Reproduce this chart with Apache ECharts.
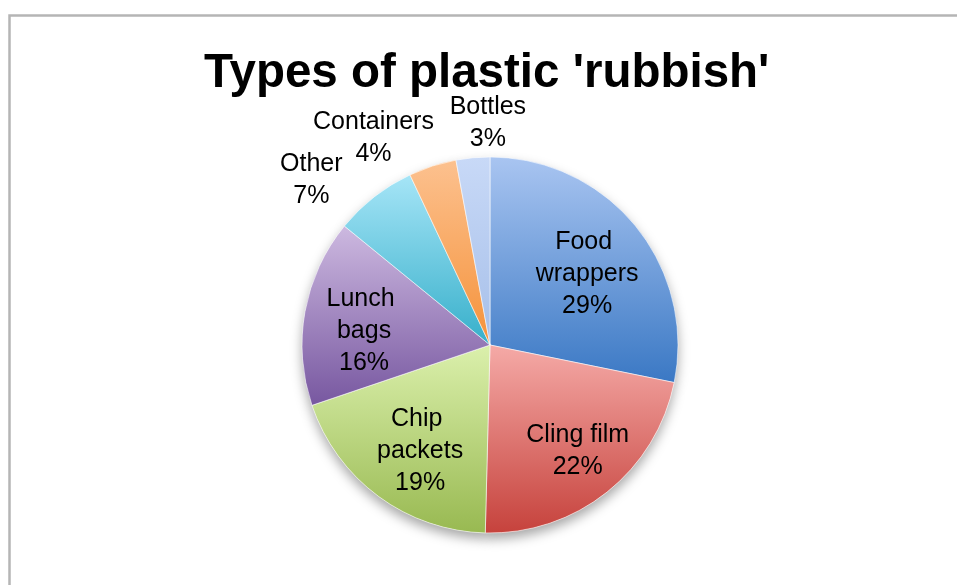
<!DOCTYPE html>
<html>
<head>
<meta charset="utf-8">
<script src="https://cdn.jsdelivr.net/npm/echarts@6/dist/echarts.min.js"></script>
<style>
  html, body { margin: 0; padding: 0; background: #fff; }
  #chart { width: 957px; height: 585px; }
</style>
</head>
<body>
<div id="chart"></div>
<script>
// ---- data ----
const titleText = "Types of plastic 'rubbish'";
const categories = ['Food wrappers', 'Cling film', 'Chip packets', 'Lunch bags', 'Other', 'Containers', 'Bottles'];
const sliceValues = [28.2, 22.2, 19.4, 16.1, 7.1, 4.1, 2.9];
// percentages as printed on the reference's data labels
const labelPercents = [29, 22, 19, 16, 7, 4, 3];

// ---- styles ----
const colorTops =    ['#a9c5f1', '#f5aaa7', '#dbf0ac', '#cdb9e0', '#a6e5f7', '#fcc18f', '#c8d9f7'];
const colorBottoms = ['#3a78c4', '#c6423c', '#98b951', '#7757a0', '#36afca', '#f5923a', '#a6bfe9'];
const labelInside =  [true, true, true, true, false, false, false];
const innerLabelShift = [[-2, 10], [8, 6], [6, 3], [0, 9], [0, 0], [0, 0], [0, 0]];
const outerLabelShift = [[0, 0], [0, 0], [0, 0], [0, 0], [-63, -17], [-59, -28], [15, -35]];

const FONT = "'Liberation Sans', Arial, Helvetica, sans-serif";
const center = [490, 345];
const R = 188;

function pctLabel(p) {
  return p.name + '\n' + labelPercents[p.dataIndex] + '%';
}

const chart = echarts.init(document.getElementById('chart'), null, { renderer: 'canvas' });

const option = {
  backgroundColor: '#ffffff',
  animation: false,
  title: {
    text: titleText,
    left: 204,
    top: 50,
    padding: 0,
    textStyle: { fontFamily: FONT, fontWeight: 'bold', fontSize: 47.5, color: '#000' }
  },
  graphic: [{
    type: 'rect',
    silent: true,
    shape: { x: 9.5, y: 15.5, width: 1200, height: 1200 },
    style: { fill: 'none', stroke: '#b5b5b5', lineWidth: 2.5 }
  }],
  series: [
    {
      // soft drop shadow under the pie
      type: 'pie',
      silent: true,
      z: 1,
      center: center,
      radius: R,
      startAngle: 90,
      avoidLabelOverlap: false,
      label: { show: false },
      labelLine: { show: false },
      itemStyle: {
        color: '#ffffff',
        shadowBlur: 12,
        shadowOffsetY: 6,
        shadowColor: 'rgba(0,0,0,0.35)'
      },
      data: categories.map((c, i) => ({ name: c, value: sliceValues[i] }))
    },
    {
      type: 'pie',
      z: 2,
      center: center,
      radius: R,
      startAngle: 90,
      avoidLabelOverlap: false,
      emphasis: { disabled: true },
      label: {
        position: 'outside',
        formatter: pctLabel,
        fontFamily: FONT,
        fontSize: 25,
        lineHeight: 32,
        color: '#000',
        distanceToLabelLine: 0
      },
      labelLine: { show: false, length: 0, length2: 0 },
      labelLayout: function (p) {
        const s = outerLabelShift[p.dataIndex] || [0, 0];
        return { align: 'center', verticalAlign: 'middle', dx: s[0], dy: s[1] };
      },
      data: categories.map((c, i) => ({
        name: c,
        value: sliceValues[i],
        label: { show: !labelInside[i] },
        itemStyle: {
          borderColor: 'rgba(255,255,255,0.55)',
          borderWidth: 1,
          color: {
            type: 'linear', x: 0, y: 0, x2: 0, y2: 1,
            colorStops: [
              { offset: 0, color: colorTops[i] },
              { offset: 1, color: colorBottoms[i] }
            ]
          }
        }
      }))
    },
    {
      // transparent overlay carrying the in-slice labels further out from the centre
      type: 'pie',
      silent: true,
      z: 3,
      center: center,
      radius: 250,
      startAngle: 90,
      avoidLabelOverlap: false,
      emphasis: { disabled: true },
      itemStyle: { color: 'rgba(0,0,0,0)' },
      label: {
        position: 'inside',
        formatter: pctLabel,
        fontFamily: FONT,
        fontSize: 25,
        lineHeight: 32,
        color: '#000',
        width: 112,
        overflow: 'break'
      },
      labelLayout: function (p) {
        const s = innerLabelShift[p.dataIndex] || [0, 0];
        return { dx: s[0], dy: s[1] };
      },
      labelLine: { show: false },
      data: categories.map((c, i) => ({
        name: c,
        value: sliceValues[i],
        label: { show: labelInside[i] }
      }))
    }
  ]
};

chart.setOption(option);
</script>
</body>
</html>
